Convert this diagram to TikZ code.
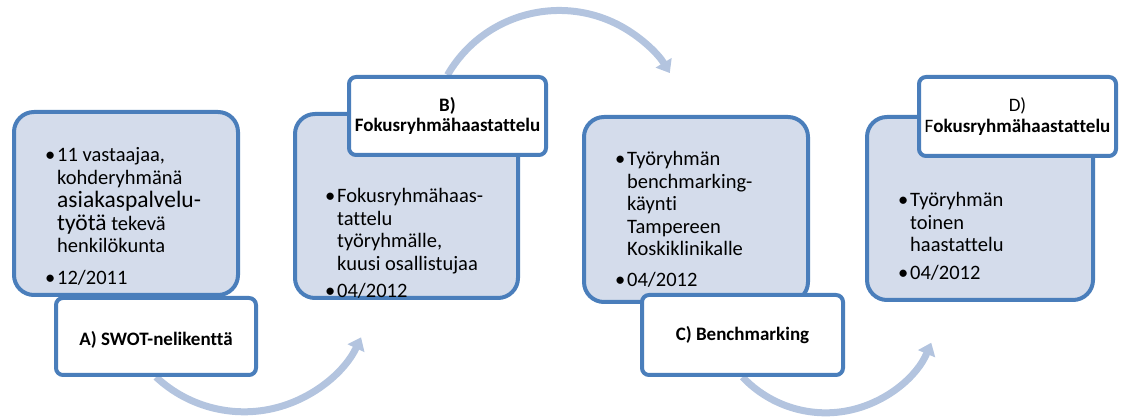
\documentclass[tikz,border=0pt]{standalone}
\usepackage{fontspec}
\setmainfont{Carlito}[Ligatures={NoCommon}]
\usetikzlibrary{arrows.meta,backgrounds}
\definecolor{bordc}{HTML}{4A7EBB}
\definecolor{fillc}{HTML}{D4DCEB}
\definecolor{arrc}{HTML}{B3C4DF}
\newcommand\bulx{\makebox[14pt][c]{•}}
\newcommand\bigtx[1]{{\fontsize{23.5}{22.5}\selectfont #1}}
\begin{document}
\begin{tikzpicture}[x=1pt,y=1pt,
  bigbox/.style={draw=bordc, fill=fillc, line width=4pt, rounded corners=20pt, inner sep=0pt},
  labelbox/.style={draw=bordc, fill=white, line width=4pt, rounded corners=7pt, inner sep=0pt,
    align=center, font=\fontsize{19}{20.5}\selectfont\bfseries},
  bodytext/.style={anchor=north west, inner sep=0pt, align=left, font=\fontsize{20.5}{22.5}\selectfont},
  arr/.style={draw=arrc, line width=7pt, -{Triangle[width=18pt,length=12pt]}}]
\useasboundingbox (0,0) rectangle (1121,419);
% boxes
\node[bigbox, minimum width=224pt, minimum height=183pt] (bigA) at (126,215.5) {};
\node[labelbox, minimum width=200pt, minimum height=77pt, text depth=0pt] (labA) at (156,82.5) {\raisebox{-3pt}{A) SWOT-nelikenttä}};
\node[bigbox, minimum width=223pt, minimum height=184pt] (bigB) at (406.5,213) {};
\node[labelbox, minimum width=197pt, minimum height=78pt] (labB) at (447.5,303) {B)\\Fokusryhmähaastattelu};
\node[bigbox, minimum width=224pt, minimum height=185pt] (bigC) at (696,209.5) {};
\node[labelbox, minimum width=201pt, minimum height=80pt] (labC) at (742.5,84) {C) Benchmarking};
\node[bigbox, minimum width=226pt, minimum height=183pt] (bigD) at (980,210.5) {};
\node[labelbox, minimum width=197pt, minimum height=79pt] (labD) at (1017.5,302.5) {{\mdseries D)}\\{\mdseries F}okusryhmähaastattelu};
% body texts
\node[bodytext] (txtA) at (43,273) {\begin{tabular}{@{}l@{}l@{}}
\bulx & 11 vastaajaa,\\
 & kohderyhmänä\\
 & \bigtx{asiakaspalvelu-}\\
 & \bigtx{työtä} tekevä\\
 & henkilökunta\\[9pt]
\bulx & 12/2011
\end{tabular}};
\node[bodytext] (txtB) at (323,232) {\begin{tabular}{@{}l@{}l@{}}
\bulx & Fokusryhmähaas-\\
 & tattelu\\
 & työryhmälle,\\
 & kuusi osallistujaa\\[5pt]
\bulx & 04/2012
\end{tabular}};
\node[bodytext] (txtC) at (613,269) {\begin{tabular}{@{}l@{}l@{}}
\bulx & Työryhmän\\
 & benchmarking-\\
 & käynti\\
 & Tampereen\\
 & Koskiklinikalle\\[8pt]
\bulx & 04/2012
\end{tabular}};
\node[bodytext] (txtD) at (896,228) {\begin{tabular}{@{}l@{}l@{}}
\bulx & Työryhmän\\
 & toinen\\
 & haastattelu\\[5pt]
\bulx & 04/2012
\end{tabular}};
% arrows behind
\begin{pgfonlayer}{background}
\draw[arr] (labA.south) arc[start angle=226.9, end angle=335, radius=129pt];
\draw[arr] (labB.north) arc[start angle=150, end angle=31, radius=129pt];
\draw[arr] (labC.south) arc[start angle=223.4, end angle=337.2, radius=114.5pt];
\end{pgfonlayer}
\end{tikzpicture}
\end{document}
